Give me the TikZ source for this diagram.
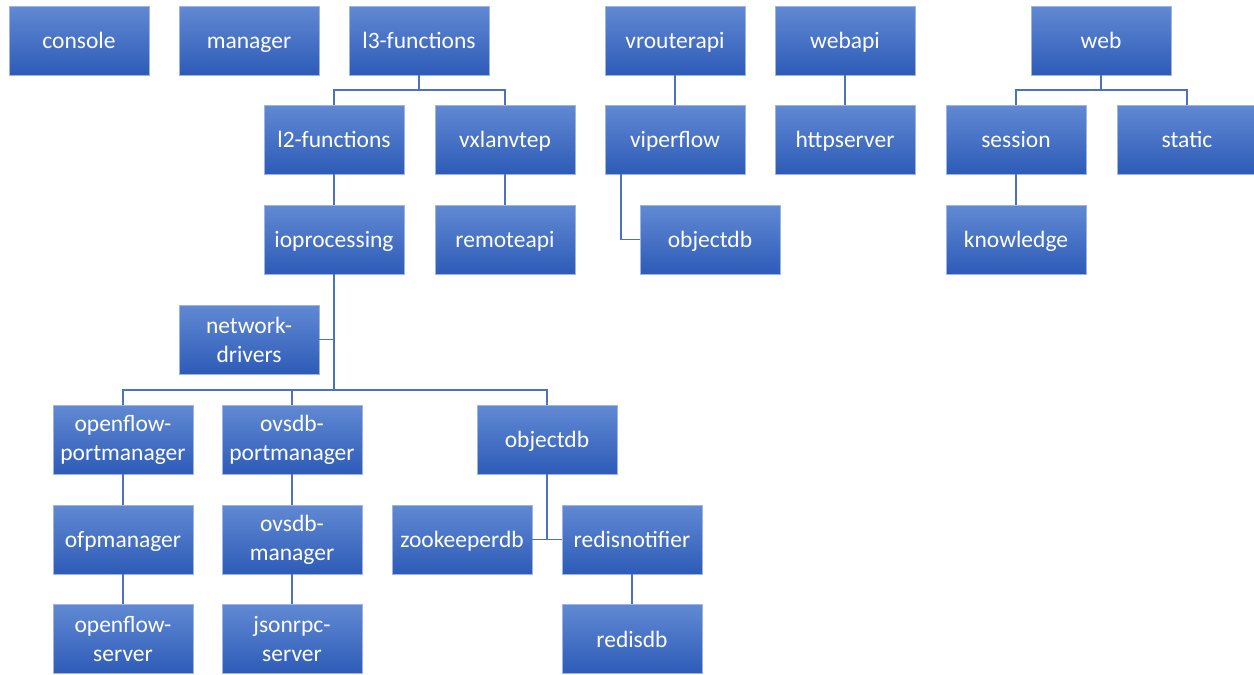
\documentclass[tikz,border=0pt]{standalone}
\usepackage{fontspec}
\setmainfont{Carlito}
\definecolor{boxtop}{HTML}{6189D3}
\definecolor{boxbot}{HTML}{2D5BB7}
\definecolor{boxedge}{HTML}{9DB4E6}
\definecolor{linkc}{HTML}{4A72BE}
\begin{document}
\begin{tikzpicture}[x=1pt,y=-1pt,
  boxbase/.style={rectangle, draw=boxedge, line width=0.8pt, top color=boxtop, bottom color=boxbot,
    minimum width=140pt, minimum height=69pt, inner sep=2pt, text=white, align=center,
    font=\fontsize{23.5}{29}\selectfont},
  box/.style={boxbase, text height=18pt, text depth=2pt},
  box2/.style={boxbase},
  link/.style={draw=linkc, line width=1.8pt}]
\useasboundingbox (0,0) rectangle (1254,675);
% row 1
\node[box] (console) at (79,40.5) {console};
\node[box] (manager) at (249,40.5) {manager};
\node[box] (l3) at (419,40.5) {l3-functions};
\node[box] (vrouterapi) at (675,40.5) {vrouterapi};
\node[box] (webapi) at (845,40.5) {webapi};
\node[box] (web) at (1101,40.5) {web};
% row 2
\node[box] (l2) at (334,139.5) {l2-functions};
\node[box] (vxlan) at (505,139.5) {vxlanvtep};
\node[box] (viperflow) at (675,139.5) {viperflow};
\node[box] (httpserver) at (845,139.5) {httpserver};
\node[box] (session) at (1016,139.5) {session};
\node[box] (static) at (1187,139.5) {static};
% row 3
\node[box] (io) at (334,239.5) {ioprocessing};
\node[box] (remoteapi) at (505,239.5) {remoteapi};
\node[box] (objdbA) at (710,239.5) {objectdb};
\node[box] (knowledge) at (1016,239.5) {knowledge};
% network drivers
\node[box2] (nd) at (249,339.5) {network-\\drivers};
% row 4
\node[box2] (ofpm) at (123,439.5) {openflow-\\portmanager};
\node[box2] (ovsdbpm) at (292,439.5) {ovsdb-\\portmanager};
\node[box] (objdbB) at (547,439.5) {objectdb};
% row 5
\node[box] (ofpmanager) at (123,539.5) {ofpmanager};
\node[box2] (ovsdbm) at (292,539.5) {ovsdb-\\manager};
\node[box] (zk) at (462,539.5) {zookeeperdb};
\node[box] (rn) at (632,539.5) {redisnotifier};
% row 6
\node[box2] (ofserver) at (123,639) {openflow-\\server};
\node[box2] (jsonrpc) at (292,639) {jsonrpc-\\server};
\node[box] (redisdb) at (632,639) {redisdb};
% junctions
\coordinate (j1) at (419,90);
\coordinate (j2) at (334,390);
\coordinate (j3) at (1101,90);
% connectors
\draw[link] (l3.south) -- (j1);
\draw[link] (l2.north) |- (j1);
\draw[link] (vxlan.north) |- (j1);
\draw[link] (l2.south) -- (io.north);
\draw[link] (vxlan.south) -- (remoteapi.north);
\draw[link] (io.south) -- (j2);
\draw[link] (nd.east) -| (io.south);
\draw[link] (ofpm.north) |- (j2);
\draw[link] (ovsdbpm.north) |- (j2);
\draw[link] (objdbB.north) |- (j2);
\draw[link] (ofpm.south) -- (ofpmanager.north);
\draw[link] (ofpmanager.south) -- (ofserver.north);
\draw[link] (ovsdbpm.south) -- (ovsdbm.north);
\draw[link] (ovsdbm.south) -- (jsonrpc.north);
\draw[link] (zk.east) -- (rn.west);
\draw[link] (objdbB.south) -- (objdbB.south |- zk.east);
\draw[link] (rn.south) -- (redisdb.north);
\draw[link] (vrouterapi.south) -- (viperflow.north);
\draw[link] ([xshift=16pt]viperflow.south west) |- (objdbA.west);
\draw[link] (webapi.south) -- (httpserver.north);
\draw[link] (web.south) -- (j3);
\draw[link] (session.north) |- (j3);
\draw[link] (static.north) |- (j3);
\draw[link] (session.south) -- (knowledge.north);
\end{tikzpicture}
\end{document}
